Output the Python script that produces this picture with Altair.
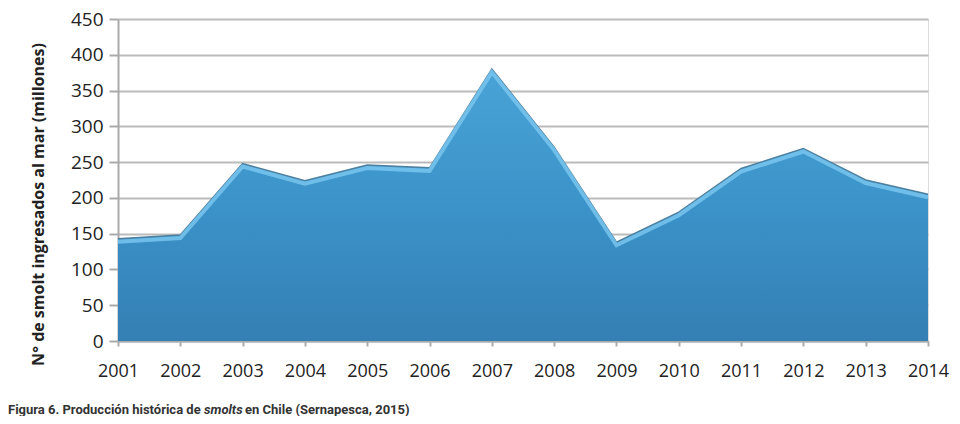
import altair as alt
import pandas as pd

years = [2001, 2002, 2003, 2004, 2005, 2006, 2007, 2008, 2009, 2010, 2011, 2012, 2013, 2014]
smolts = [143, 148, 248, 224, 246, 242, 380, 271, 138, 180, 241, 269, 225, 205]
y_ticks = [0, 50, 100, 150, 200, 250, 300, 350, 400, 450]
caption_parts = ["Figura 6. Producción histórica de", "smolts", "en Chile (Sernapesca, 2015)"]

df = pd.DataFrame({"year": years, "smolts": smolts})

x_scale = alt.Scale(domain=[2001, 2014], nice=False, zero=False)
y_scale = alt.Scale(domain=[0, 450], nice=False)

x_enc = alt.X(
    "year:Q",
    scale=x_scale,
    axis=alt.Axis(
        values=years, format="d", title=None, labelFontSize=18, labelColor="#222",
        labelFont="Open Sans", ticks=True, tickSize=5, tickColor="#aaaaaa", tickWidth=2,
        labelPadding=16, grid=False, labelOverlap=False,
        domainColor="#aaaaaa", domainWidth=2, labelFlush=False,
    ),
)
y_enc = alt.Y(
    "smolts:Q",
    scale=y_scale,
    axis=alt.Axis(
        values=y_ticks, title="N° de smolt ingresados al mar (millones)",
        titleFontSize=16, titleFont="Open Sans", titleFontWeight="bold", titleColor="#222",
        titleX=-72, titleY=185, titleAngle=270, labelOverlap=False,
        labelFontSize=19, labelFont="Open Sans", labelColor="#222", labelPadding=6,
        tickSize=9, tickColor="#aaaaaa", tickWidth=2,
        gridColor="#bbbbbb", gridWidth=2, domainColor="#aaaaaa", domainWidth=2,
    ),
)

base = alt.Chart(df).encode(x=x_enc, y=y_enc)

area = base.mark_area(
    opacity=1,
    color=alt.Gradient(
        gradient="linear",
        stops=[alt.GradientStop(color="#4aa3d6", offset=0),
               alt.GradientStop(color="#3b93c9", offset=0.5),
               alt.GradientStop(color="#347fb4", offset=1)],
        x1=1, x2=1, y1=0, y2=1,
    ),
    line={"color": "#4d7f9e", "strokeWidth": 1.5},
)

highlight = base.mark_line(color="#78c6ee", strokeWidth=4, opacity=0.85, yOffset=3)

def caption(text, xpos, style):
    return alt.Chart(pd.DataFrame({"t": [text]})).mark_text(
        align="left", baseline="middle", fontSize=13, fontWeight="bold", font="Roboto",
        fontStyle=style, color="#333"
    ).encode(text="t:N", x=alt.value(xpos), y=alt.value(391))

c1 = caption(caption_parts[0], -110, "normal")
c2 = caption(caption_parts[1], 86, "italic")
c3 = caption(caption_parts[2], 127, "normal")

chart = alt.layer(area, highlight, c1, c2, c3).properties(
    width=810, height=322,
    autosize=alt.AutoSizeParams(type="none"),
    padding={"left": 110, "top": 11, "right": 24, "bottom": 75},
).configure_view(stroke=None).configure(background="white")

chart.save("out.html", embed_options={"renderer": "svg", "actions": False})
